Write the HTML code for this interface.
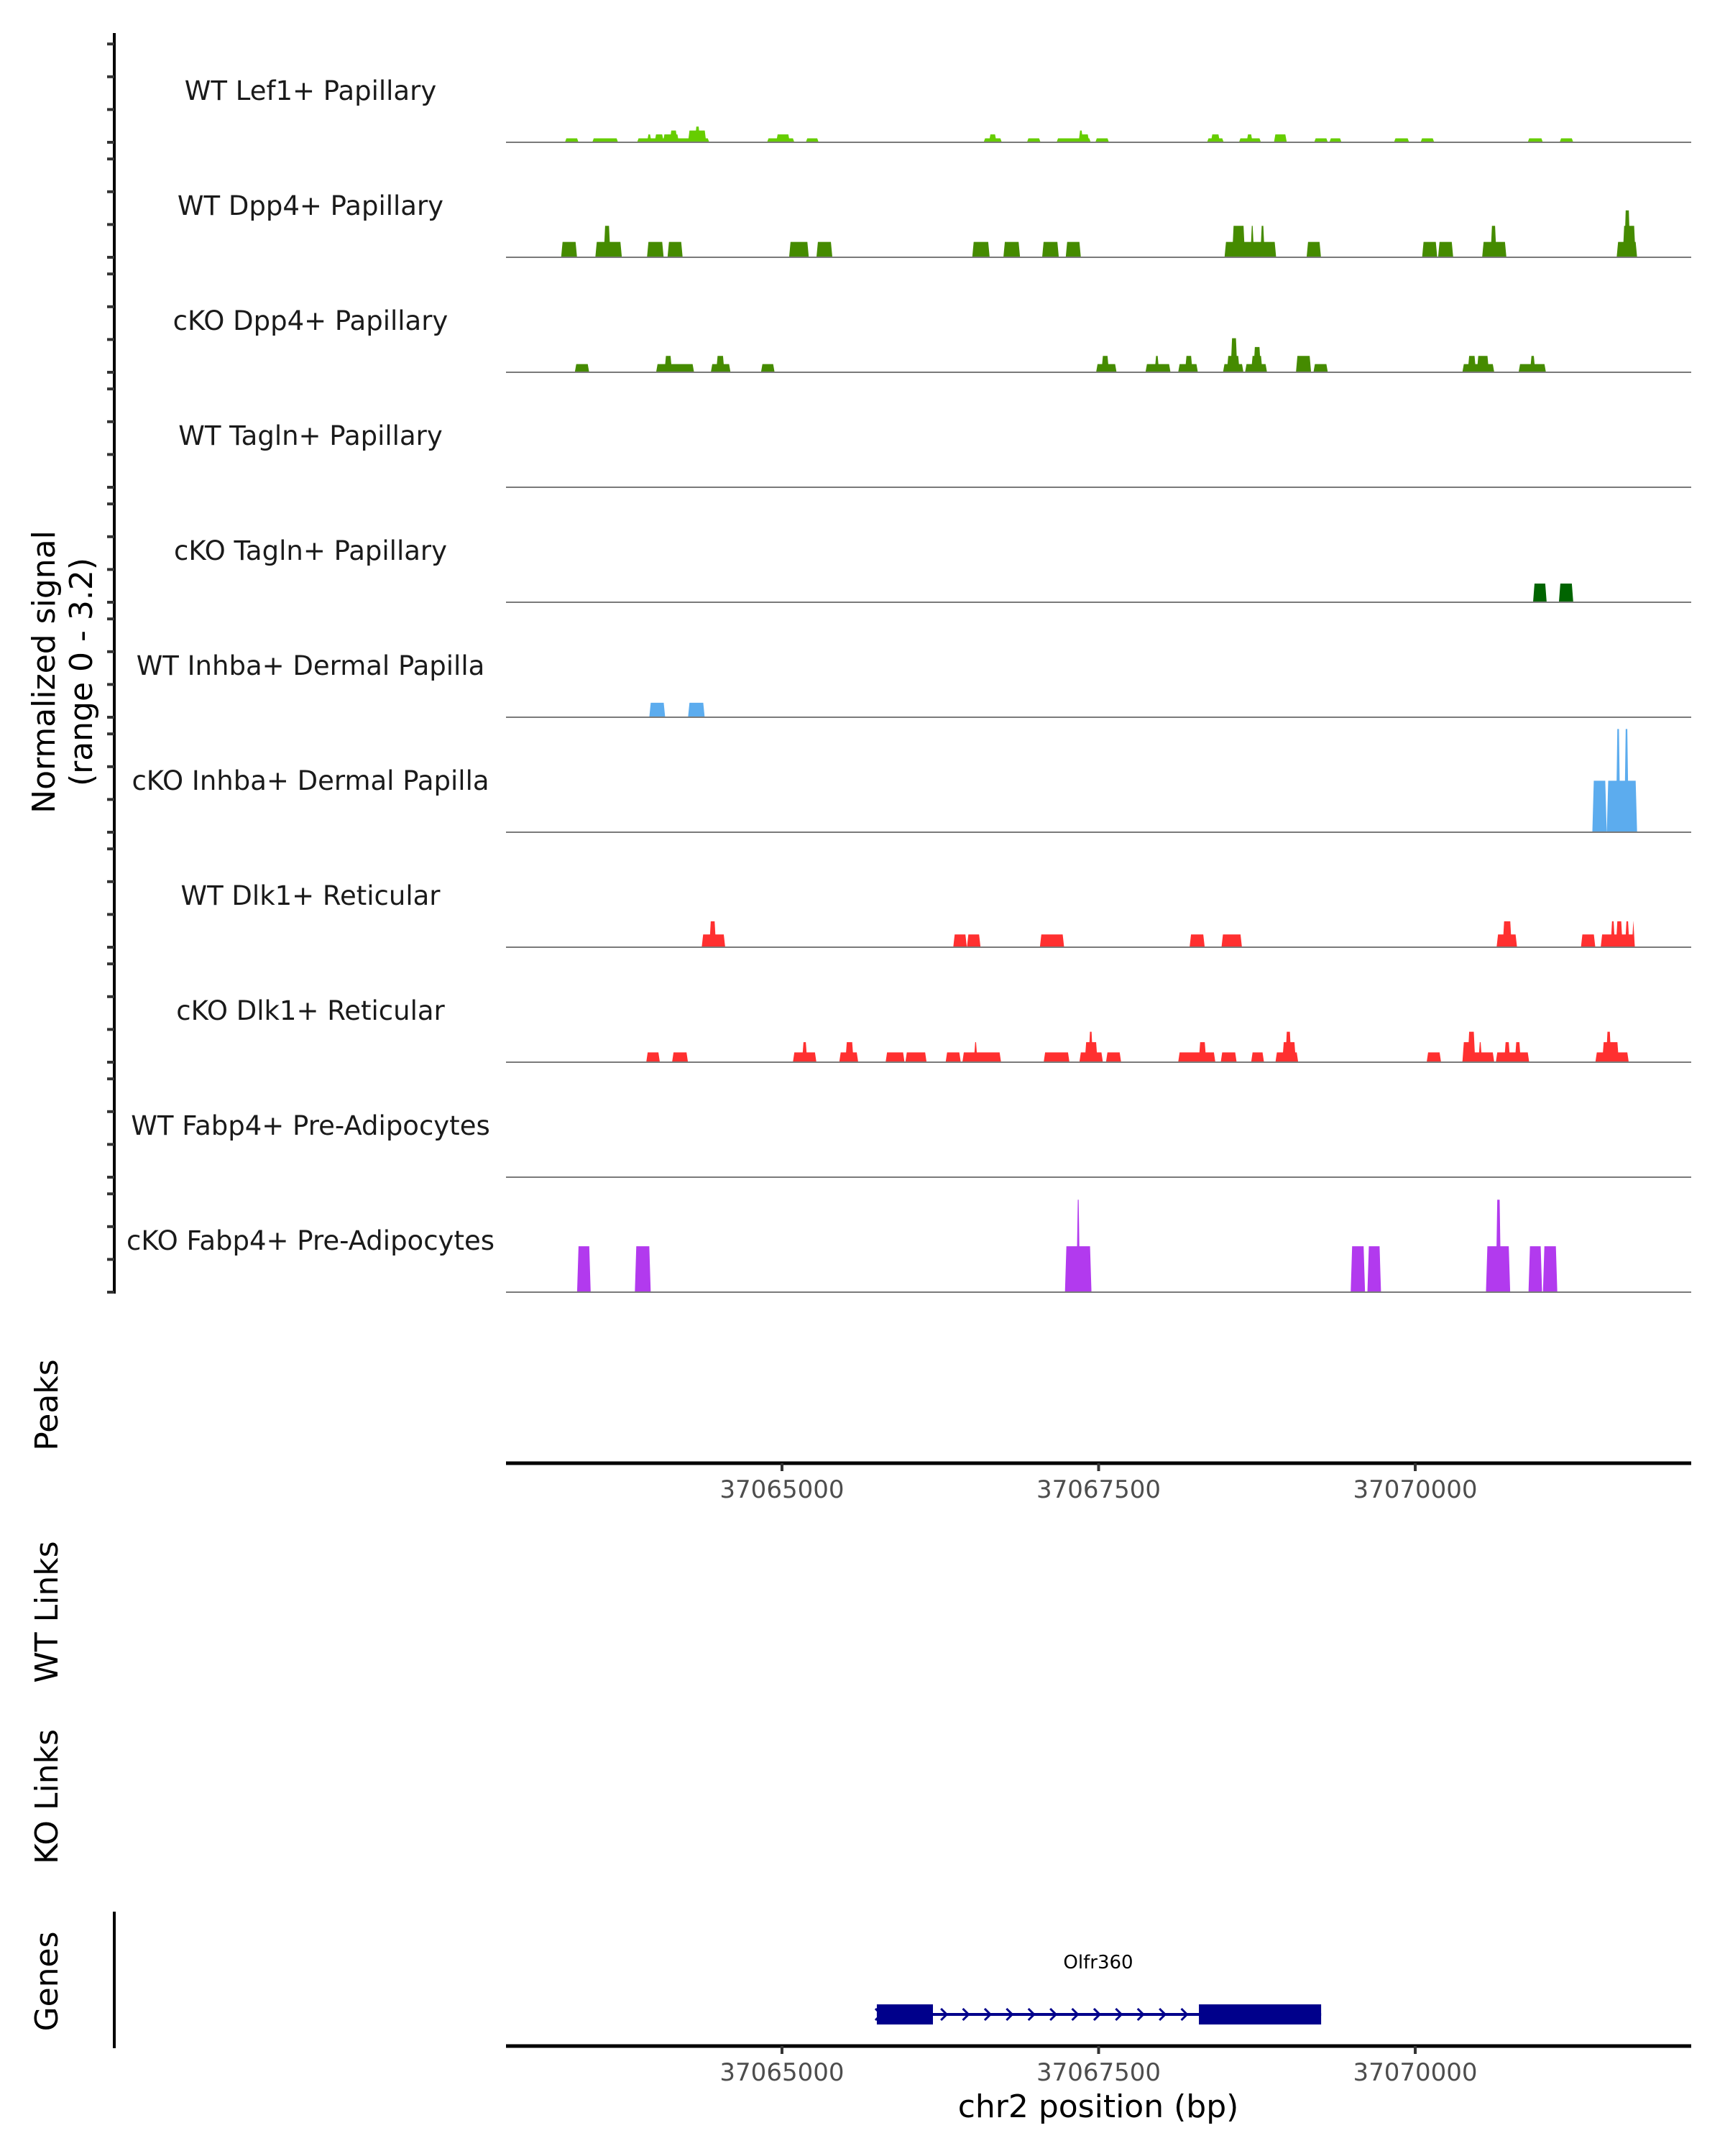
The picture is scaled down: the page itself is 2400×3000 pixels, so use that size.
<!DOCTYPE html>
<html><head><meta charset="utf-8"><style>
html,body{margin:0;padding:0;background:#fff}
svg{display:block}
text{font-family:"DejaVu Sans","Liberation Sans",sans-serif}
</style></head><body>
<svg id="chart" width="2400" height="3000" viewBox="0 0 2400 3000" xmlns="http://www.w3.org/2000/svg"></svg>
<script>
const trackNames = ["WT Lef1+ Papillary","WT Dpp4+ Papillary","cKO Dpp4+ Papillary","WT Tagln+ Papillary","cKO Tagln+ Papillary","WT Inhba+ Dermal Papilla","cKO Inhba+ Dermal Papilla","WT Dlk1+ Reticular","cKO Dlk1+ Reticular","WT Fabp4+ Pre-Adipocytes","cKO Fabp4+ Pre-Adipocytes"];
const trackColors = ["#66CD00","#458B00","#458B00","#006400","#006400","#5CACEE","#5CACEE","#FF3030","#FF3030","#B23AEE","#B23AEE"];
const xDomain = [37062821, 37072179];
const yRange = [0, 3.2];
const xTicks = [37065000, 37067500, 37070000];
const geneName = "Olfr360";
const geneSpan = [37065749, 37069257];
const geneExons = [[37065749, 37066192], [37068292, 37069257]];
// blocks: [startBp, endBp, signal]
const lef1WT = [[37063292,37063388,0.12],[37063508,37063700,0.12],[37063862,37064420,0.12],[37063940,37063964,0.24],[37064000,37064060,0.24],[37064066,37064180,0.24],[37064120,37064168,0.36],[37064264,37064396,0.36],[37064318,37064348,0.48],[37064888,37065092,0.12],[37064960,37065056,0.24],[37065194,37065284,0.12],[37066598,37066730,0.12],[37066640,37066688,0.24],[37066940,37067036,0.12],[37067174,37067432,0.12],[37067348,37067420,0.24],[37067348,37067372,0.36],[37067480,37067576,0.12],[37068362,37068482,0.12],[37068392,37068452,0.24],[37068614,37068776,0.12],[37068674,37068710,0.24],[37068890,37068980,0.24],[37069208,37069304,0.12],[37069328,37069412,0.12],[37069838,37069946,0.12],[37070048,37070144,0.12],[37070894,37071002,0.12],[37071146,37071242,0.12]];
const dpp4WT = [[37063262,37063376,0.47],[37063532,37063730,0.47],[37063598,37063640,0.96],[37063940,37064060,0.47],[37064102,37064210,0.47],[37065062,37065206,0.47],[37065278,37065392,0.47],[37066508,37066634,0.47],[37066754,37066874,0.47],[37067060,37067180,0.47],[37067246,37067354,0.47],[37068500,37068896,0.47],[37068560,37068650,0.96],[37068704,37068722,0.96],[37068782,37068806,0.96],[37069148,37069250,0.47],[37070060,37070168,0.47],[37070186,37070294,0.47],[37070534,37070714,0.47],[37070600,37070636,0.96],[37071596,37071746,0.47],[37071644,37071734,0.96],[37071656,37071692,1.43]];
const dpp4KO = [[37063370,37063472,0.25],[37064012,37064300,0.25],[37064078,37064126,0.5],[37064444,37064588,0.25],[37064486,37064540,0.5],[37064840,37064936,0.25],[37067486,37067636,0.25],[37067528,37067576,0.5],[37067876,37068062,0.25],[37067948,37067972,0.5],[37068134,37068278,0.25],[37068188,37068236,0.5],[37068488,37068638,0.25],[37068518,37068608,0.5],[37068548,37068590,1.04],[37068662,37068824,0.25],[37068710,37068788,0.5],[37068728,37068776,0.77],[37069064,37069172,0.5],[37069202,37069304,0.25],[37070378,37070618,0.25],[37070420,37070474,0.5],[37070492,37070576,0.5],[37070822,37071026,0.25],[37070912,37070942,0.5]];
const taglnWT = [];
const taglnKO = [[37070936,37071032,0.57],[37071140,37071242,0.57]];
const inhbaWT = [[37063958,37064072,0.44],[37064264,37064384,0.44]];
const inhbaKO = [[37071404,37071506,1.57],[37071518,37071746,1.57],[37071590,37071614,3.15],[37071656,37071680,3.15]];
const dlk1WT = [[37064372,37064546,0.39],[37064432,37064474,0.79],[37066358,37066454,0.39],[37066466,37066562,0.39],[37067042,37067222,0.39],[37068224,37068332,0.39],[37068476,37068626,0.39],[37070648,37070798,0.39],[37070696,37070756,0.79],[37071314,37071416,0.39],[37071470,37071728,0.39],[37071548,37071572,0.79],[37071590,37071632,0.79],[37071662,37071686,0.79],[37071716,37071728,0.79]];
const dlk1KO = [[37063934,37064030,0.3],[37064138,37064252,0.3],[37065092,37065266,0.3],[37065164,37065194,0.61],[37065458,37065596,0.3],[37065506,37065560,0.61],[37065824,37065962,0.3],[37065980,37066136,0.3],[37066298,37066406,0.3],[37066430,37066724,0.3],[37066520,37066538,0.61],[37067072,37067264,0.3],[37067354,37067528,0.3],[37067396,37067486,0.61],[37067426,37067450,0.93],[37067564,37067672,0.3],[37068134,37068416,0.3],[37068296,37068344,0.61],[37068470,37068584,0.3],[37068710,37068800,0.3],[37068902,37069070,0.3],[37068956,37069052,0.61],[37068980,37069016,0.93],[37070096,37070198,0.3],[37070378,37070618,0.3],[37070378,37070468,0.61],[37070420,37070468,0.93],[37070504,37070522,0.61],[37070642,37070894,0.3],[37070708,37070744,0.61],[37070792,37070828,0.61],[37071428,37071680,0.3],[37071482,37071602,0.61],[37071512,37071542,0.93]];
const fabp4WT = [];
const fabp4KO = [[37063388,37063484,1.4],[37063844,37063958,1.4],[37067240,37067438,1.4],[37067330,37067348,2.82],[37069496,37069598,1.4],[37069628,37069724,1.4],[37070564,37070744,1.4],[37070642,37070672,2.82],[37070900,37070996,1.4],[37071014,37071116,1.4]];
const trackData = [lef1WT,dpp4WT,dpp4KO,taglnWT,taglnKO,inhbaWT,inhbaKO,dlk1WT,dlk1KO,fabp4WT,fabp4KO];

const NS="http://www.w3.org/2000/svg";
const svg=document.getElementById('chart');
const PL=704, PR=2353, B0=198, TH=160, UNIT=45.6;
function xs(bp){return PL+(bp-xDomain[0])/(xDomain[1]-xDomain[0])*(PR-PL);}
function ys(t,v){return B0+t*TH-(v-yRange[0])*UNIT;}
function el(tag,attrs,parent){const e=document.createElementNS(NS,tag);for(const k in attrs)e.setAttribute(k,attrs[k]);(parent||svg).appendChild(e);return e;}
function txt(s,attrs){const t=el('text',attrs);t.textContent=s;return t;}

const yaxis=el('line',{x1:159,y1:46,x2:159,y2:1800,stroke:'#000','stroke-width':4});


for(let t=0;t<trackNames.length;t++){
  for(let k=0;k<4;k++){
    const yy=ys(t,k);
    const tk=el('line',{x1:149,y1:yy,x2:159,y2:yy,stroke:'#333','stroke-width':4});
    
    
  }
}
const yt=txt('',{transform:'translate(88,935) rotate(-90)','text-anchor':'middle','font-size':44,fill:'#000'});


const ts1=el('tspan',{x:0,dy:-12},yt);ts1.textContent='Normalized signal';
const ts2=el('tspan',{x:0,dy:52},yt);ts2.textContent='(range 0 - 3.2)';

for(let t=0;t<trackNames.length;t++){
  const g=el('g',{});
  
  
  const lab=txt(trackNames[t],{x:432,y:ys(t,0)-59,'text-anchor':'middle','font-size':37,fill:'#1a1a1a'});
  
  
  trackData[t].forEach(b=>{
    const x1=xs(b[0]),x2=xs(b[1]),y0=ys(t,0),y1=ys(t,b[2]);
    const p=el('polygon',{points:`${x1-1},${y0} ${x1+1},${y1} ${x2-1},${y1} ${x2+1},${y0}`,fill:trackColors[t]},g);
    
    
  });
  const bl=el('line',{x1:PL,y1:ys(t,0),x2:PR,y2:ys(t,0),stroke:'#7a7a7a','stroke-width':2},g);
  
  
}

[['Peaks',1955,'peaks-title'],['WT Links',2243,'wt-links-title'],['KO Links',2500,'ko-links-title'],['Genes',2757,'genes-title']].forEach(a=>{
  const s=txt(a[0],{transform:`translate(80,${a[1]}) rotate(-90)`,'text-anchor':'middle','font-size':44,fill:'#000'});
  
  
});

function xaxis(y,name){
  const l=el('line',{x1:PL,y1:y,x2:PR,y2:y,stroke:'#000','stroke-width':5});
  
  
  xTicks.forEach(v=>{
    const tk=el('line',{x1:xs(v),y1:y,x2:xs(v),y2:y+11,stroke:'#333','stroke-width':4});
    
    
    const tl=txt(String(v),{x:xs(v),y:y+48,'text-anchor':'middle','font-size':34,fill:'#4d4d4d'});
    
    
  });
}
xaxis(2036,'peaks-x-axis');
xaxis(2847,'genes-x-axis');
const xt=txt('chr2 position (bp)',{x:1528,y:2946,'text-anchor':'middle','font-size':44,fill:'#000'});



const ga=el('line',{x1:159,y1:2660,x2:159,y2:2850,stroke:'#000','stroke-width':4});


const GY=2803;
const gl=el('line',{x1:xs(geneSpan[0]),y1:GY,x2:xs(geneSpan[1]),y2:GY,stroke:'#00008B','stroke-width':4});


for(let x=xs(geneSpan[0])+2;x<xs(geneSpan[1]);x+=30.4){
  const c=el('polyline',{points:`${x-4},${GY-8} ${x+4},${GY} ${x-4},${GY+8}`,fill:'none',stroke:'#00008B','stroke-width':3});
  
  
}
geneExons.forEach(e=>{
  const r=el('rect',{x:xs(e[0]),y:GY-14,width:xs(e[1])-xs(e[0]),height:28,fill:'#00008B'});
  
  
});
const gn=txt(geneName,{x:1528,y:2739,'text-anchor':'middle','font-size':26,fill:'#000'});


</script>
</body></html>
